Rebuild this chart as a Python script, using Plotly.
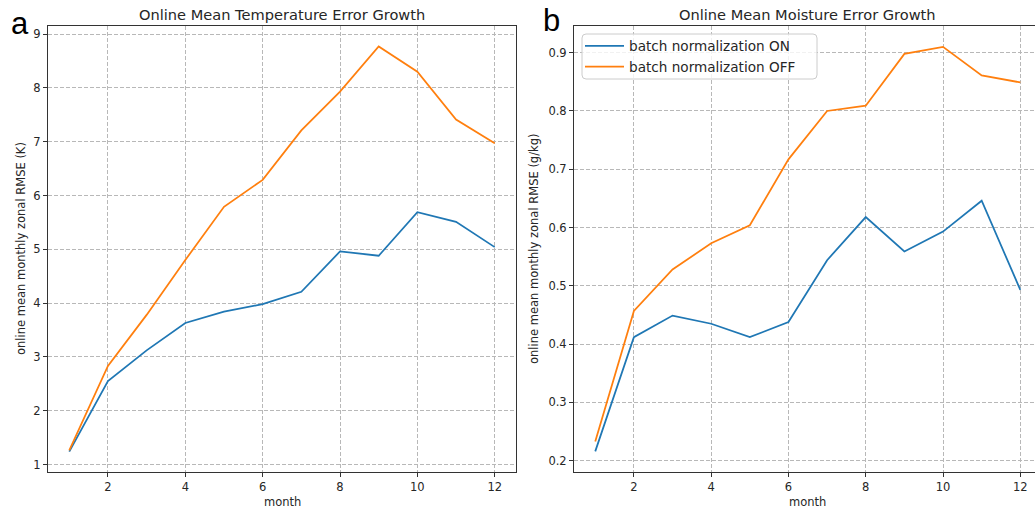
import plotly.graph_objects as go

# Monthly online error growth, two model configurations
months = [1, 2, 3, 4, 5, 6, 7, 8, 9, 10, 11, 12]

temp_bn_on = [1.24, 2.55, 3.12, 3.63, 3.84, 3.98, 4.21, 4.96, 4.88, 5.69, 5.51, 5.04]
temp_bn_off = [1.26, 2.83, 3.78, 4.80, 5.79, 6.29, 7.21, 7.93, 8.77, 8.30, 7.41, 6.97]

moist_bn_on = [0.216, 0.412, 0.449, 0.435, 0.412, 0.438, 0.544, 0.618, 0.559, 0.593, 0.646, 0.493]
moist_bn_off = [0.233, 0.457, 0.528, 0.573, 0.604, 0.717, 0.800, 0.809, 0.898, 0.910, 0.861, 0.849]

x_ticks = [2, 4, 6, 8, 10, 12]
temp_ticks = [1, 2, 3, 4, 5, 6, 7, 8, 9]
moist_ticks = [0.2, 0.3, 0.4, 0.5, 0.6, 0.7, 0.8, 0.9]
moist_tick_text = ["0.2", "0.3", "0.4", "0.5", "0.6", "0.7", "0.8", "0.9"]

series_names = ["batch normalization ON", "batch normalization OFF"]
panel_titles = ["Online Mean Temperature Error Growth", "Online Mean Moisture Error Growth"]
y_titles = ["online mean monthly zonal RMSE (K)", "online mean monthly zonal RMSE (g/kg)"]
panel_letters = ["a", "b"]

W, H = 1035, 516
BLUE, ORANGE = "#1f77b4", "#ff7f0e"
FONT = "DejaVu Sans"
TXT = "#262626"
LINE = "#333333"


def px_x(p):
    return p / W


def px_y(p):
    return 1 - p / H


fig = go.Figure()

# Temperature panel
fig.add_trace(go.Scatter(x=months, y=temp_bn_on, mode="lines", name=series_names[0],
                         line=dict(color=BLUE, width=1.75), xaxis="x", yaxis="y", showlegend=False))
fig.add_trace(go.Scatter(x=months, y=temp_bn_off, mode="lines", name=series_names[1],
                         line=dict(color=ORANGE, width=1.75), xaxis="x", yaxis="y", showlegend=False))
# Moisture panel
fig.add_trace(go.Scatter(x=months, y=moist_bn_on, mode="lines", name=series_names[0],
                         line=dict(color=BLUE, width=1.75), xaxis="x2", yaxis="y2"))
fig.add_trace(go.Scatter(x=months, y=moist_bn_off, mode="lines", name=series_names[1],
                         line=dict(color=ORANGE, width=1.75), xaxis="x2", yaxis="y2"))

axis_common = dict(
    showline=True, linecolor=LINE, linewidth=1,
    ticks="outside", ticklen=4, tickwidth=1, tickcolor=LINE,
    showgrid=True, gridcolor="#b8b8b8", gridwidth=0.8, griddash="4px,2px",
    zeroline=False,
    tickfont=dict(family=FONT, size=11.5, color=TXT),
)

ydom = [px_y(472), px_y(26)]

fig.update_layout(
    width=W, height=H,
    margin=dict(l=0, r=0, t=0, b=0),
    paper_bgcolor="white", plot_bgcolor="white",
    font=dict(family=FONT, color=TXT),
    xaxis=dict(domain=[px_x(48), px_x(516)], range=[0.45, 12.55], tickvals=x_ticks,
               mirror=True, anchor="y", **axis_common),
    yaxis=dict(domain=ydom, range=[0.86, 9.15], tickvals=temp_ticks,
               mirror=True, anchor="x", **axis_common),
    xaxis2=dict(domain=[px_x(574), 1.0], range=[0.45, 12.38], tickvals=x_ticks,
                mirror=True, anchor="y2", **axis_common),
    yaxis2=dict(domain=ydom, range=[0.1806, 0.9458], tickvals=moist_ticks,
                ticktext=moist_tick_text, mirror=False, anchor="x2", **axis_common),
    legend=dict(
        x=px_x(580), y=px_y(30.5), xanchor="left", yanchor="top",
        bgcolor="rgba(0,0,0,0)", borderwidth=0,
        font=dict(family=FONT, size=13.6, color=TXT),
        tracegroupgap=0, itemwidth=39,
    ),
)

# Rounded legend frame
x0, x1, y0, y1, r = 582, 817, 34, 79, 4
path = (f"M{px_x(x0 + r)},{px_y(y0)} L{px_x(x1 - r)},{px_y(y0)} "
        f"Q{px_x(x1)},{px_y(y0)} {px_x(x1)},{px_y(y0 + r)} "
        f"L{px_x(x1)},{px_y(y1 - r)} Q{px_x(x1)},{px_y(y1)} {px_x(x1 - r)},{px_y(y1)} "
        f"L{px_x(x0 + r)},{px_y(y1)} Q{px_x(x0)},{px_y(y1)} {px_x(x0)},{px_y(y1 - r)} "
        f"L{px_x(x0)},{px_y(y0 + r)} Q{px_x(x0)},{px_y(y0)} {px_x(x0 + r)},{px_y(y0)} Z")
fig.add_shape(type="path", path=path, xref="paper", yref="paper", layer="above",
              fillcolor="rgba(255,255,255,0.8)", line=dict(color="#cccccc", width=1))

annotations = []
centers = [282, 807.5]
for i in range(2):
    annotations.append(dict(text=panel_titles[i], x=px_x(centers[i]), y=px_y(14.4),
                            xref="paper", yref="paper", xanchor="center", yanchor="middle",
                            showarrow=False, font=dict(family=FONT, size=14.6, color=TXT)))
    annotations.append(dict(text="month", x=px_x(centers[i]), y=px_y(502),
                            xref="paper", yref="paper", xanchor="center", yanchor="middle",
                            showarrow=False, font=dict(family=FONT, size=11.5, color=TXT)))
annotations.append(dict(text=y_titles[0], x=px_x(21), y=px_y(249), textangle=-90,
                        xref="paper", yref="paper", xanchor="center", yanchor="middle",
                        showarrow=False, font=dict(family=FONT, size=11.5, color=TXT)))
annotations.append(dict(text=y_titles[1], x=px_x(534), y=px_y(249), textangle=-90,
                        xref="paper", yref="paper", xanchor="center", yanchor="middle",
                        showarrow=False, font=dict(family=FONT, size=11.5, color=TXT)))
annotations.append(dict(text=panel_letters[0], x=px_x(9), y=px_y(24),
                        xref="paper", yref="paper", xanchor="left", yanchor="middle",
                        showarrow=False, font=dict(family="Liberation Sans", size=31, color="black")))
annotations.append(dict(text=panel_letters[1], x=px_x(541), y=px_y(21),
                        xref="paper", yref="paper", xanchor="left", yanchor="middle",
                        showarrow=False, font=dict(family="Liberation Sans", size=31, color="black")))
fig.update_layout(annotations=annotations)

fig.write_html("out.html")
